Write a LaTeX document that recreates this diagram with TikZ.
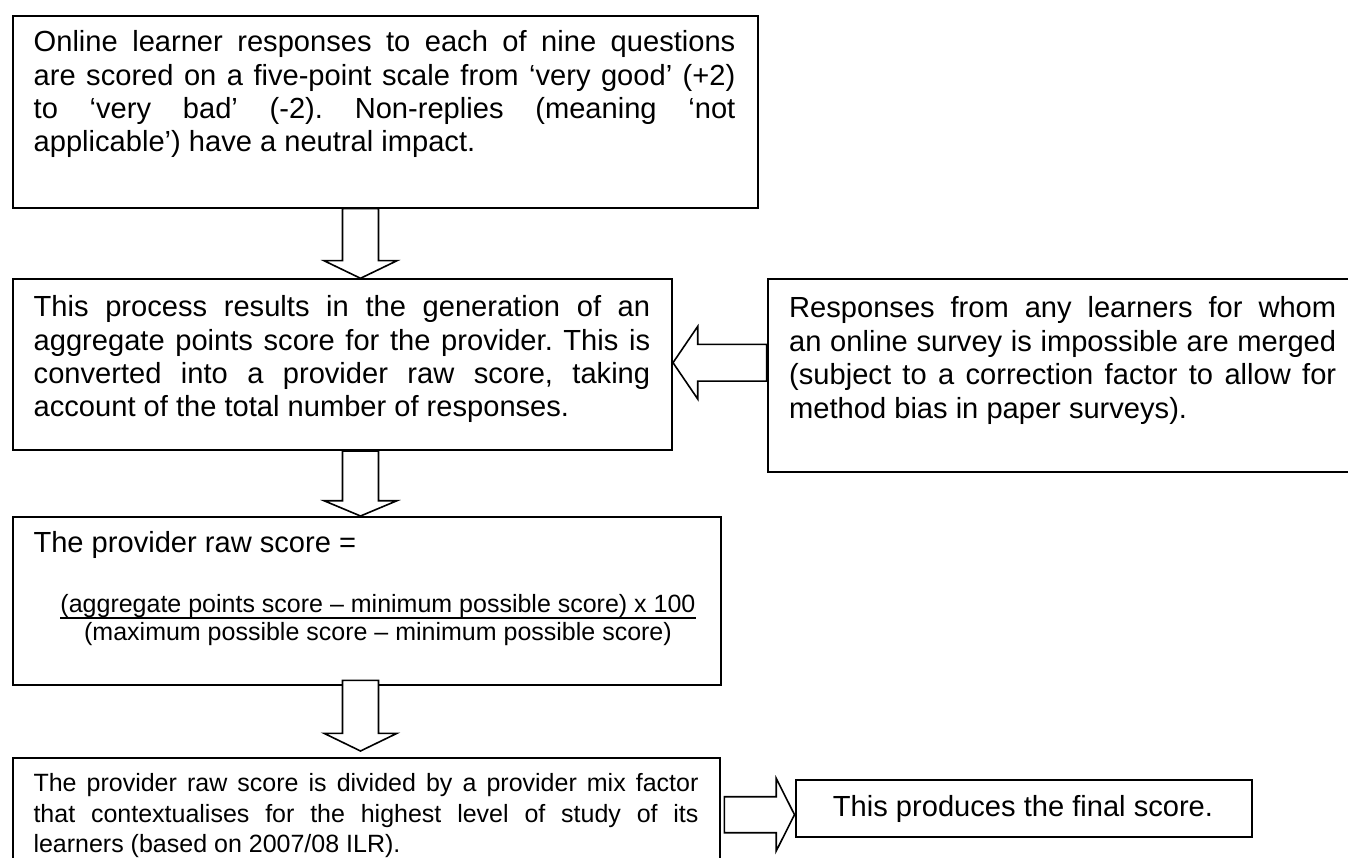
\documentclass[tikz,border=0pt]{standalone}
\usepackage{fontspec}
\setmainfont{Liberation Sans}
\usetikzlibrary{calc}
\frenchspacing

\tikzset{
  frame/.style={draw=black, line width=2pt, inner sep=0pt, anchor=north west, fill=white},
  blk/.style={draw=black, line width=1.6pt, fill=white, line join=miter},
  nohyph/.style={execute at begin node={\frenchspacing\hyphenpenalty=10000\exhyphenpenalty=10000\tolerance=10000\hbadness=10000}},
  bodytext/.style={nohyph, inner sep=0pt, anchor=base west, align=justify,
    font=\fontsize{29.1pt}{33.4pt}\selectfont},
  smalltext/.style={nohyph, inner sep=0pt, anchor=base west, align=justify,
    font=\fontsize{25pt}{30.3pt}\selectfont},
  formula/.style={inner sep=0pt, anchor=base, font=\fontsize{25pt}{30pt}\selectfont},
}

% block arrow pointing down: start of shaft, tip, head length
\newcommand\blockdown[3]{%
  \draw[blk] let \p1=(#1), \p2=(#2) in
    (\x1-18pt,\y1) -- (\x1-18pt,\y2+#3) -- (\x1-36.5pt,\y2+#3) -- (\x2,\y2)
    -- (\x1+36.5pt,\y2+#3) -- (\x1+18pt,\y2+#3) -- (\x1+18pt,\y1) -- cycle;}
% block arrow pointing left: start of shaft, tip
\newcommand\blockleft[2]{%
  \draw[blk] let \p1=(#1), \p2=(#2) in
    (\x1,\y2+18.35pt) -- (\x2+24.7pt,\y2+18.35pt) -- (\x2+24.7pt,\y2+36.3pt) -- (\x2,\y2)
    -- (\x2+24.7pt,\y2-36.3pt) -- (\x2+24.7pt,\y2-18.35pt) -- (\x1,\y2-18.35pt) -- cycle;}
% block arrow pointing right: start of shaft, tip
\newcommand\blockright[2]{%
  \draw[blk] let \p1=(#1), \p2=(#2) in
    (\x1,\y2+18pt) -- (\x2-18.3pt,\y2+18pt) -- (\x2-18.3pt,\y2+36.3pt) -- (\x2,\y2)
    -- (\x2-18.3pt,\y2-36.3pt) -- (\x2-18.3pt,\y2-18pt) -- (\x1,\y2-18pt) -- cycle;}

\begin{document}
\begin{tikzpicture}[x=1pt, y=-1pt]
\useasboundingbox (0,0) rectangle (1348,858);
\fill[white] (0,0) rectangle (1348,858);
\clip (0,0) rectangle (1348,858);

% process boxes
\node[frame, minimum width=744.7pt, minimum height=191.7pt] (b1) at (12,15) {};
\node[frame, minimum width=659pt, minimum height=170.7pt] (b2) at (12,278.3) {};
\node[frame, minimum width=591pt, minimum height=192.4pt] (b3) at (766.7,278.3) {};
\node[frame, minimum width=708pt, minimum height=168.3pt] (b4) at (12,516) {};
\node[frame, minimum width=707pt, minimum height=115pt] (b5) at (12,756.7) {};
\node[frame, minimum width=456.5pt, minimum height=57pt] (b6) at (794.5,779) {};

% box texts
\node[bodytext, text width=701.7pt] (t1) at (33.5,51.7)
  {Online learner responses to each of nine questions\linebreak
   are scored on a five-point scale from ‘very good’ (+2)\linebreak
   to ‘very bad’ (-2). Non-replies (meaning ‘not\linebreak
   applicable’) have a neutral impact.};
\node[bodytext, text width=616.5pt] (t2) at (33.5,316.7)
  {This process results in the generation of an\linebreak
   aggregate points score for the provider. This is\linebreak
   converted into a provider raw score, taking\linebreak
   account of the total number of responses.};
\node[bodytext, text width=547pt] (t3) at (789,318)
  {Responses from any learners for whom\linebreak
   an online survey is impossible are merged\linebreak
   (subject to a correction factor to allow for\linebreak
   method bias in paper surveys).};
\node[bodytext] (t4) at (33.3,552.7) {The provider raw score =};
\node[formula] (f1) at (378,612) {(aggregate points score – minimum possible score) x 100};
\node[formula] (f2) at (378,640) {(maximum possible score – minimum possible score)};
\draw[line width=1.5pt] ([yshift=-6pt]f1.base west) -- ([yshift=-6pt]f1.base east);
\node[smalltext, text width=665pt] (t5) at (33.3,791.7)
  {The provider raw score is divided by a provider mix factor\linebreak
   that contextualises for the highest level of study of its\linebreak
   learners (based on 2007/08 ILR).};
\node[bodytext, anchor=base] (t6) at (1023,816) {This produces the final score.};

% block arrows between the boxes
\coordinate (colx) at (360.5,0);
\coordinate (midy) at (0,362.7);
\coordinate (lowy) at (0,814.7);
\blockdown{b1.south -| colx}{b2.north -| colx}{17.6pt}
\blockdown{b2.south -| colx}{b4.north -| colx}{15.3pt}
\blockdown{$(b4.south -| colx)+(0,-6)$}{$(b5.north -| colx)+(0,-5.7)$}{17.7pt}
\blockleft{b3.west |- midy}{b2.east |- midy}
\blockright{$(b5.east |- lowy)+(3.3,0)$}{b6.west |- lowy}
\end{tikzpicture}
\end{document}
